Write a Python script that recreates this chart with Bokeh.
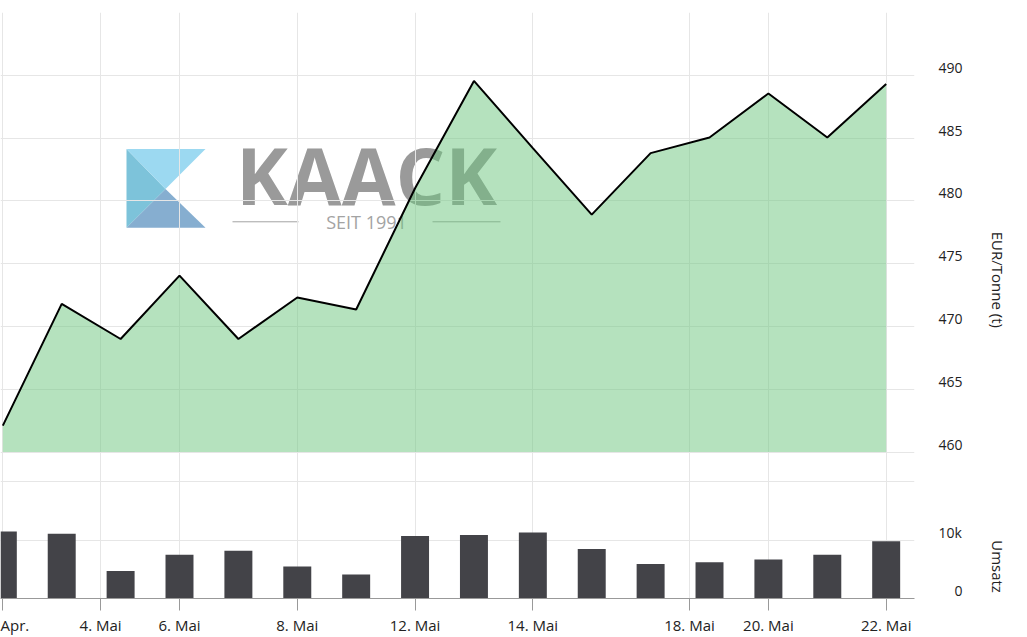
import math
from bokeh.plotting import figure
from bokeh.models import Range1d, FixedTicker, LinearAxis
from bokeh.core.properties import value
from bokeh.embed import file_html
from bokeh.resources import INLINE

# ---------------- data ----------------
tick_pos = [0, 1.66, 3, 5, 7, 9, 11.66, 13, 15]
tick_labels = ["Apr.", "4. Mai", "6. Mai", "8. Mai", "12. Mai",
               "14. Mai", "18. Mai", "20. Mai", "22. Mai"]
price = [462.1, 471.8, 469.0, 474.05, 469.0, 472.3, 471.35, 481.0,
         489.55, 484.2, 478.9, 483.8, 485.05, 488.55, 485.05, 489.3]
volume = [11500, 11100, 4700, 7500, 8200, 5500, 4100, 10700,
          10900, 11300, 8500, 5900, 6200, 6700, 7500, 9800]
price_ticks = [460, 465, 470, 475, 480, 485, 490]
price_grid = [460, 465, 470, 475, 480, 485, 490, 495]
vol_ticks = [0, 10000]
vol_tick_labels = ["0", "10k"]
vol_grid = [10000, 20000]
axis_titles = ["EUR/Tonne (t)", "Umsatz"]
area_base = 460
idx = list(range(len(price)))

# ---------------- layout geometry (page pixels) ----------------
W, H = 1027, 637
FRAME_L, FRAME_R, FRAME_T, FRAME_B = 0, 914, 12, 600
X0_PX, STEP_PX = 2.33, 58.89          # pixel of first point, pixels per point
P_REF_PX, P_REF, P_SCALE = 453, 460, 12.6
V_SCALE = 117 / 20000                  # pixels per volume unit
LABEL_DY = 8                            # labels sit 8px above their grid line
TITLE_PX = [232, 541.5]                 # vertical centres of the two titles
FIG_SPACE = "\u2007"                    # digit-wide space for right alignment


def px2x(px):
    return (px - X0_PX) / STEP_PX


def py2p(py):
    return P_REF + (P_REF_PX - py) / P_SCALE


def v2p(v):
    return py2p(FRAME_B - v * V_SCALE)


x_end = px2x(FRAME_R)
p = figure(width=W, height=H, output_backend="svg", toolbar_location=None,
           x_range=Range1d(px2x(FRAME_L), x_end),
           y_range=Range1d(py2p(FRAME_B), py2p(FRAME_T)),
           x_axis_location="below", y_axis_location="right",
           min_border_left=0, min_border_top=FRAME_T,
           min_border_right=W - FRAME_R, min_border_bottom=H - FRAME_B,
           background_fill_color="white", border_fill_color="white")
p.outline_line_color = None
p.extra_y_ranges = {"vol": Range1d(0, (FRAME_B - FRAME_T) / V_SCALE)}

# ---------------- watermark (under the grid) ----------------
logo_xs_px = [[126, 165, 126], [126, 205, 165], [126, 205, 165]]
logo_ys_px = [[149, 189, 228], [149, 149, 189], [228, 228, 189]]
logo_cols = ["#7dc3da", "#9cd9f1", "#86aed0"]
p.patches(xs=[[px2x(a) for a in xs] for xs in logo_xs_px],
          ys=[[py2p(b) for b in ys] for ys in logo_ys_px],
          fill_color=logo_cols, line_color=None, level="image")
p.text(x=[px2x(366)], y=[py2p(175)], text=["KAACK"],
       text_font=value("Open Sans"), text_font_style="bold",
       text_font_size="78px", text_color="#9a9a9a",
       text_align="center", text_baseline="middle", level="image")
p.text(x=[px2x(366)], y=[py2p(222)], text=["SEIT 1991"],
       text_font=value("Open Sans"), text_font_size="18px",
       text_color="#a3a3a3", text_align="center", text_baseline="middle",
       level="image")
p.segment(x0=[px2x(232), px2x(432)], y0=[py2p(222), py2p(222)],
          x1=[px2x(298), px2x(500)], y1=[py2p(222), py2p(222)],
          line_color="#a3a3a3", line_width=1, level="image")

# ---------------- series ----------------
p.vbar(x=idx, top=volume, bottom=0, width=0.475, y_range_name="vol",
       fill_color="#434348", line_color=None)
p.varea(x=idx, y1=[area_base] * len(idx), y2=price,
        fill_color="#6bc57d", fill_alpha=0.5)
p.line(idx, price, line_color="black", line_width=2)

# ---------------- grids ----------------
p.xgrid.ticker = FixedTicker(ticks=tick_pos)
p.xgrid.grid_line_color = "#e6e6e6"
p.ygrid.ticker = FixedTicker(ticks=[round(v, 6) for v in price_grid] +
                             [round(v2p(v), 6) for v in vol_grid])
p.ygrid.grid_line_color = "#e6e6e6"

# ---------------- x axis ----------------
xa = p.xaxis[0]
xa.ticker = FixedTicker(ticks=tick_pos)
xa.major_label_overrides = {t: l for t, l in zip(tick_pos, tick_labels)}
xa.axis_line_color = "#999999"
xa.major_tick_line_color = "#999999"
xa.major_tick_in = 0
xa.major_tick_out = 12
xa.minor_tick_line_color = None
xa.major_label_standoff = 4
xa.major_label_text_font = "Open Sans"
xa.major_label_text_font_size = "15px"
xa.major_label_text_color = "#222222"


def style_right_axis(ax, standoff, size):
    ax.axis_line_color = None
    ax.major_tick_line_color = None
    ax.minor_tick_line_color = None
    ax.major_tick_out = 0
    ax.major_tick_in = 0
    ax.major_label_standoff = standoff
    ax.major_label_text_font = "Open Sans"
    ax.major_label_text_font_size = size
    ax.major_label_text_color = "#222222"


# ---------------- right axis: price + volume tick labels ----------------
off = LABEL_DY / P_SCALE
y_vals = [round(t + off, 6) for t in price_ticks] + \
         [round(v2p(v) + off, 6) for v in vol_ticks]
y_text = [str(t) for t in price_ticks] + vol_tick_labels
y_text = [FIG_SPACE * (3 - len(s)) + s if s.isdigit() else s for s in y_text]
ya = p.yaxis[0]
ya.ticker = FixedTicker(ticks=y_vals)
ya.major_label_overrides = {t: l for t, l in zip(y_vals, y_text)}
style_right_axis(ya, 24, "14px")

# ---------------- second right axis: the two titles ----------------
t_vals = [round(py2p(v), 6) for v in TITLE_PX]
ta = LinearAxis(ticker=FixedTicker(ticks=t_vals),
                major_label_overrides={t: l for t, l in zip(t_vals, axis_titles)},
                major_label_orientation=-math.pi / 2)
style_right_axis(ta, 32, "15px")
p.add_layout(ta, "right")

open("out.html", "w").write(file_html(p, INLINE))
